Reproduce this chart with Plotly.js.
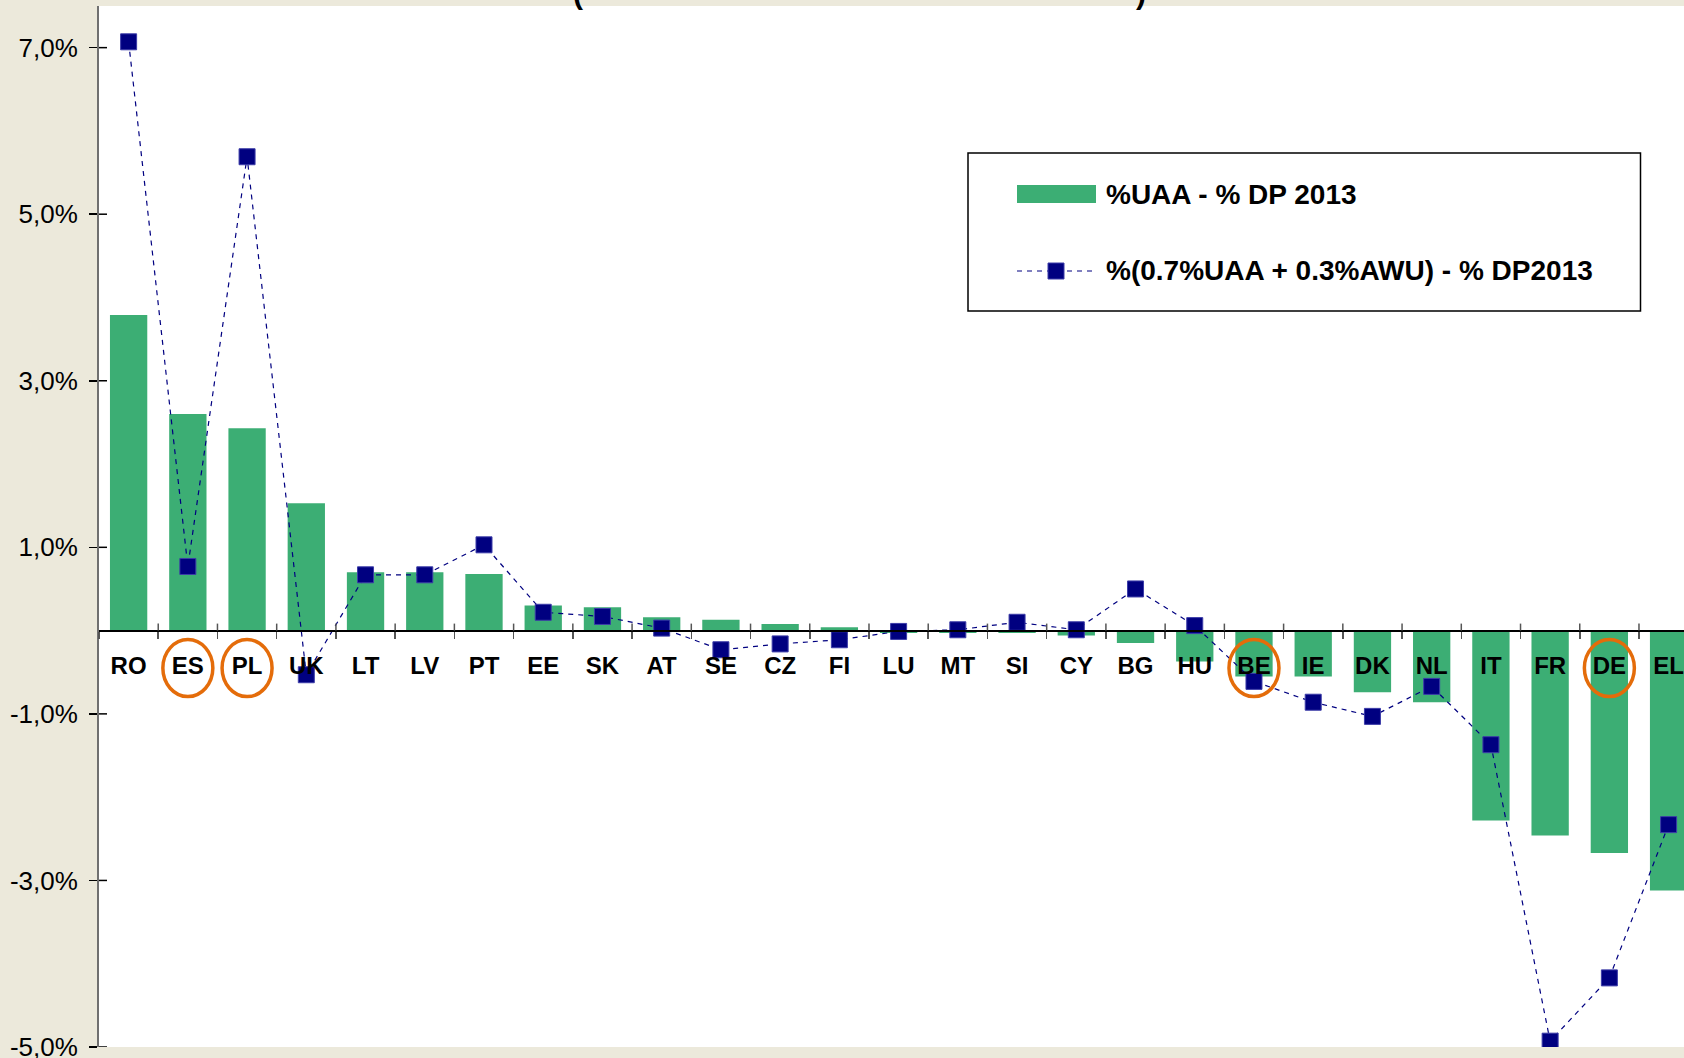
<!DOCTYPE html>
<html>
<head>
<meta charset="utf-8">
<script src="https://cdn.plot.ly/plotly-3.0.1.min.js"></script>
<style>
  html, body { margin: 0; padding: 0; background: #ECE9DB; }
  #chart { width: 1684px; height: 1058px; }
</style>
</head>
<body>
<div id="chart"></div>
<script>
// ---------------- data ----------------
const categories = ['RO','ES','PL','UK','LT','LV','PT','EE','SK','AT','SE','CZ','FI','LU','MT','SI','CY','BG','HU','BE','IE','DK','NL','IT','FR','DE','EL'];
// %UAA - % DP 2013 (percentage points)
const uaaDiff = [3.79, 2.60, 2.43, 1.53, 0.70, 0.70, 0.68, 0.30, 0.28, 0.16, 0.13, 0.08, 0.04, -0.03, -0.03, -0.03, -0.06, -0.15, -0.37, -0.55, -0.55, -0.74, -0.86, -2.28, -2.46, -2.67, -3.12];
// %(0.7%UAA + 0.3%AWU) - % DP2013 (percentage points)
const mixDiff = [7.07, 0.77, 5.69, -0.53, 0.67, 0.67, 1.03, 0.22, 0.17, 0.03, -0.23, -0.16, -0.11, -0.01, 0.01, 0.10, 0.01, 0.50, 0.06, -0.61, -0.86, -1.03, -0.67, -1.37, -4.93, -4.17, -2.33];
const seriesNames = ['%UAA - % DP 2013', '%(0.7%UAA + 0.3%AWU) - % DP2013'];
const yTickVals = [7, 5, 3, 1, -1, -3, -5];
const yTickText = ['7,0%', '5,0%', '3,0%', '1,0%', '-1,0%', '-3,0%', '-5,0%'];
const highlighted = ['ES', 'PL', 'BE', 'DE'];

// ---------------- styling ----------------
const FONT = 'Liberation Sans, Arial, Helvetica, sans-serif';
const GREEN = '#3CAE74';
const NAVY = '#000080';
const ORANGE = '#E46C0A';
const W = 1684, H = 1058;
const M = {l: 99, r: 0, t: 6, b: 11};
const plotW = W - M.l - M.r, plotH = H - M.t - M.b;
const px2x = px => (px - M.l) / plotW;
const py2y = py => (H - M.b - py) / plotH;
const yRange = [-5, 7.5];

const traces = [
  {
    type: 'bar', x: categories, y: uaaDiff, name: seriesNames[0],
    marker: {color: GREEN, line: {width: 0}},
    hoverinfo: 'skip'
  },
  {
    type: 'scatter', mode: 'lines+markers', x: categories, y: mixDiff, name: seriesNames[1],
    line: {color: NAVY, width: 1.2, dash: '5px,5px'},
    marker: {symbol: 'square', size: 16, color: NAVY, line: {color: '#3c3ca8', width: 1}},
    hoverinfo: 'skip'
  }
];

const shapes = [];
// upper halves of the crossing category ticks
for (let i = 0; i < categories.length; i++) {
  shapes.push({type: 'line', xref: 'x', yref: 'y', ysizemode: 'pixel', yanchor: 0,
    x0: i + 0.5, x1: i + 0.5, y0: 0, y1: 7, line: {color: '#555555', width: 1.5}});
}
// inner halves of the crossing value ticks
yTickVals.forEach(v => {
  shapes.push({type: 'line', xref: 'paper', xsizemode: 'pixel', xanchor: 0, yref: 'y',
    x0: 0, x1: 8, y0: v, y1: v, line: {color: '#000000', width: 1.5}});
});
// orange circles around highlighted labels
highlighted.forEach(c => {
  const idx = categories.indexOf(c);
  shapes.push({type: 'circle', xref: 'x', xsizemode: 'pixel', xanchor: idx,
    yref: 'y', ysizemode: 'pixel', yanchor: 0,
    x0: -25, x1: 25, y0: -66, y1: -9, line: {color: ORANGE, width: 3.5}, fillcolor: 'rgba(0,0,0,0)'});
});
// legend box
shapes.push({type: 'rect', xref: 'paper', yref: 'paper',
  x0: px2x(968), x1: px2x(1640.5), y0: py2y(311), y1: py2y(153),
  line: {color: '#000000', width: 1.5}, fillcolor: '#FFFFFF'});
shapes.push({type: 'rect', xref: 'paper', yref: 'paper',
  x0: px2x(1017), x1: px2x(1096), y0: py2y(203), y1: py2y(185),
  line: {width: 0}, fillcolor: GREEN});
shapes.push({type: 'line', xref: 'paper', yref: 'paper',
  x0: px2x(1017), x1: px2x(1097), y0: py2y(271), y1: py2y(271),
  line: {color: NAVY, width: 1.2, dash: '5px,5px'}});
shapes.push({type: 'rect', xref: 'paper', yref: 'paper',
  x0: px2x(1048), x1: px2x(1064), y0: py2y(279), y1: py2y(263),
  line: {color: '#3c3ca8', width: 1}, fillcolor: NAVY});

const annotations = [
  {xref: 'paper', yref: 'paper', x: px2x(1104), y: py2y(195), xanchor: 'left', yanchor: 'middle',
   text: seriesNames[0], showarrow: false, font: {family: FONT, size: 28, color: '#000', weight: 'bold'}},
  {xref: 'paper', yref: 'paper', x: px2x(1104), y: py2y(270.5), xanchor: 'left', yanchor: 'middle',
   text: seriesNames[1], showarrow: false, font: {family: FONT, size: 28, color: '#000', weight: 'bold'}},
  // clipped fragments of the cut-off title
  {xref: 'paper', yref: 'paper', x: px2x(578), y: py2y(12), xanchor: 'center', yanchor: 'bottom',
   text: '(', showarrow: false, font: {family: FONT, size: 30, color: '#000', weight: 'bold'}},
  {xref: 'paper', yref: 'paper', x: px2x(1141), y: py2y(12), xanchor: 'center', yanchor: 'bottom',
   text: ')', showarrow: false, font: {family: FONT, size: 30, color: '#000', weight: 'bold'}}
];

const layout = {
  width: W, height: H,
  margin: {l: M.l, r: M.r, t: M.t, b: M.b, pad: 0},
  paper_bgcolor: '#ECE9DB',
  plot_bgcolor: '#FFFFFF',
  showlegend: false,
  bargap: 0.37,
  font: {family: FONT, color: '#000'},
  xaxis: {
    type: 'category', range: [-0.5, -0.5 + plotW / 59.23],
    anchor: 'free', position: (0 - yRange[0]) / (yRange[1] - yRange[0]),
    showline: true, linecolor: '#000000', linewidth: 2,
    ticks: 'outside', ticklen: 7, tickwidth: 1.5, tickcolor: '#555555', tickson: 'boundaries',
    tickfont: {family: FONT, size: 24, color: '#000', weight: 'bold'},
    ticklabelstandoff: 14,
    showgrid: false, zeroline: false, fixedrange: true
  },
  yaxis: {
    range: yRange,
    tickmode: 'array', tickvals: yTickVals, ticktext: yTickText,
    showline: true, linecolor: '#707070', linewidth: 2,
    ticks: 'outside', ticklen: 8, tickwidth: 1.5, tickcolor: '#000000',
    tickfont: {family: FONT, size: 26, color: '#000'},
    ticklabelstandoff: 6,
    ticklabeloverflow: 'allow',
    showgrid: false, zeroline: false, fixedrange: true
  },
  shapes: shapes,
  annotations: annotations
};

Plotly.newPlot('chart', traces, layout, {displayModeBar: false, staticPlot: true});
</script>
</body>
</html>
